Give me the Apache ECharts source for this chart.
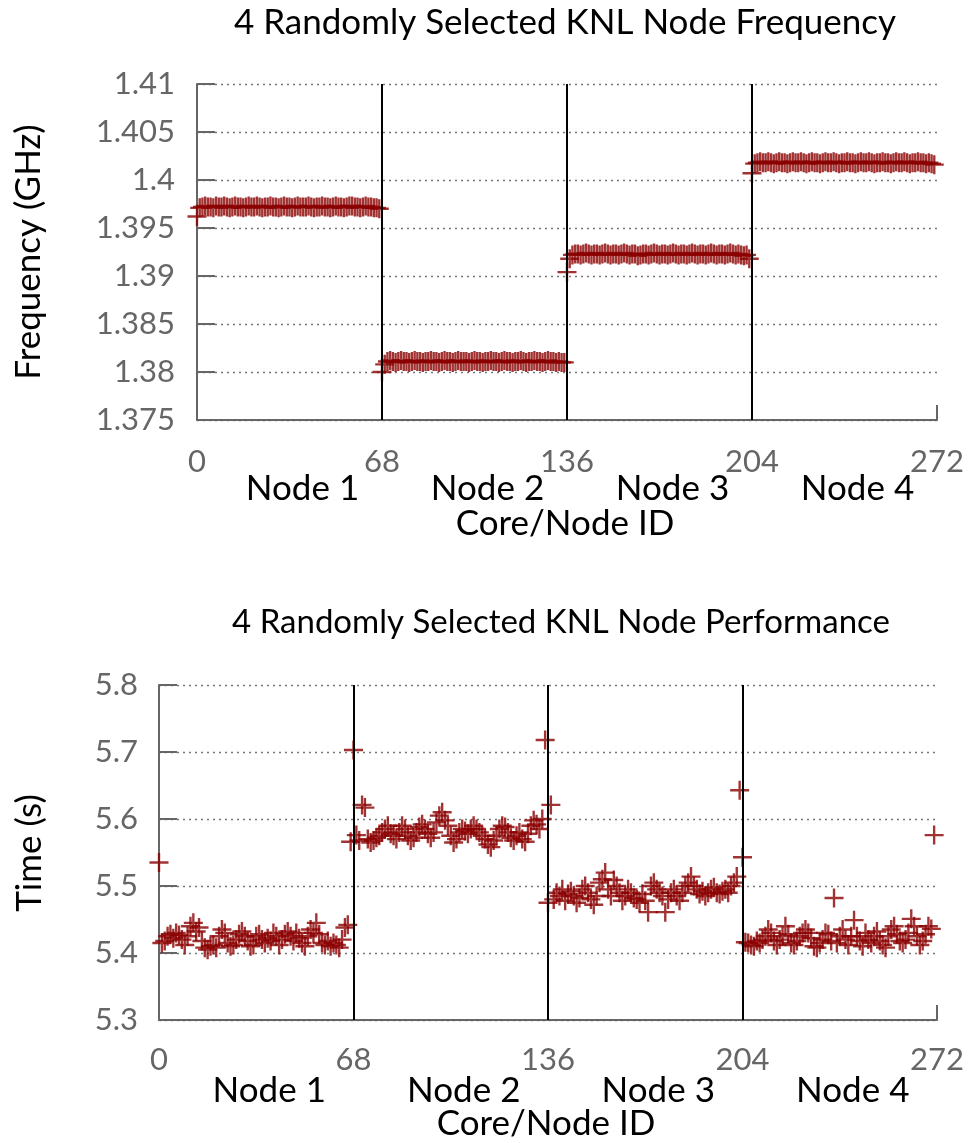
<!DOCTYPE html>
<html>
<head>
<meta charset="utf-8">
<script src="https://cdn.jsdelivr.net/npm/echarts@6/dist/echarts.min.js"></script>
<style>
  html, body { margin: 0; padding: 0; background: #fff; }
  #chart { width: 974px; height: 1143px; }
</style>
</head>
<body>
<div id="chart"></div>
<script>
const nodeNames = ["Node 1", "Node 2", "Node 3", "Node 4"];
const nodeBounds = [0, 68, 136, 204, 272];

// frequency per core (GHz), 68 cores per node
const freqNode1 = [
  1.3962, 1.3971, 1.3972, 1.3973, 1.3972, 1.3972, 1.3971, 1.3973, 1.3972, 1.3972,
  1.3973, 1.3972, 1.3971, 1.3972, 1.3973, 1.3972, 1.3972, 1.3971, 1.3972, 1.3973,
  1.3972, 1.3972, 1.3973, 1.3972, 1.3971, 1.3972, 1.3972, 1.3973, 1.3972, 1.3972,
  1.3971, 1.3972, 1.3973, 1.3972, 1.3972, 1.3971, 1.3972, 1.3973, 1.3972, 1.3972,
  1.3972, 1.3973, 1.3972, 1.3971, 1.3972, 1.3972, 1.3973, 1.3972, 1.3972, 1.3971,
  1.3972, 1.3973, 1.3972, 1.3972, 1.3971, 1.3972, 1.3973, 1.3973, 1.3972, 1.3972,
  1.3971, 1.3972, 1.3973, 1.3972, 1.3972, 1.3971, 1.3971, 1.3970
];
const freqNode2 = [
  1.3800, 1.3808, 1.3811, 1.3812, 1.3811, 1.3810, 1.3811, 1.3812, 1.3811, 1.3811,
  1.3810, 1.3811, 1.3812, 1.3811, 1.3811, 1.3810, 1.3811, 1.3811, 1.3812, 1.3811,
  1.3811, 1.3810, 1.3811, 1.3812, 1.3811, 1.3811, 1.3810, 1.3811, 1.3812, 1.3811,
  1.3811, 1.3811, 1.3810, 1.3811, 1.3812, 1.3811, 1.3811, 1.3810, 1.3811, 1.3811,
  1.3812, 1.3811, 1.3811, 1.3810, 1.3811, 1.3812, 1.3811, 1.3811, 1.3810, 1.3811,
  1.3811, 1.3812, 1.3811, 1.3810, 1.3811, 1.3811, 1.3812, 1.3811, 1.3811, 1.3810,
  1.3811, 1.3812, 1.3811, 1.3811, 1.3810, 1.3811, 1.3810, 1.3810
];
const freqNode3 = [
  1.3904, 1.3918, 1.3922, 1.3923, 1.3923, 1.3922, 1.3923, 1.3924, 1.3923, 1.3922,
  1.3923, 1.3923, 1.3922, 1.3923, 1.3924, 1.3923, 1.3922, 1.3923, 1.3923, 1.3922,
  1.3923, 1.3924, 1.3923, 1.3922, 1.3923, 1.3923, 1.3921, 1.3922, 1.3923, 1.3923,
  1.3922, 1.3923, 1.3924, 1.3923, 1.3922, 1.3923, 1.3923, 1.3922, 1.3923, 1.3924,
  1.3923, 1.3922, 1.3923, 1.3923, 1.3922, 1.3923, 1.3924, 1.3923, 1.3922, 1.3923,
  1.3923, 1.3922, 1.3923, 1.3924, 1.3923, 1.3922, 1.3923, 1.3923, 1.3922, 1.3923,
  1.3924, 1.3923, 1.3922, 1.3923, 1.3922, 1.3921, 1.3922, 1.3918
];
const freqNode4 = [
  1.4007, 1.4017, 1.4018, 1.4019, 1.4018, 1.4018, 1.4019, 1.4018, 1.4017, 1.4018,
  1.4019, 1.4018, 1.4018, 1.4017, 1.4018, 1.4019, 1.4018, 1.4018, 1.4019, 1.4018,
  1.4017, 1.4018, 1.4019, 1.4018, 1.4018, 1.4017, 1.4018, 1.4019, 1.4018, 1.4018,
  1.4019, 1.4018, 1.4017, 1.4018, 1.4018, 1.4019, 1.4018, 1.4018, 1.4017, 1.4018,
  1.4019, 1.4018, 1.4018, 1.4019, 1.4018, 1.4017, 1.4018, 1.4018, 1.4019, 1.4018,
  1.4018, 1.4017, 1.4018, 1.4019, 1.4018, 1.4018, 1.4019, 1.4018, 1.4017, 1.4018,
  1.4018, 1.4019, 1.4018, 1.4018, 1.4017, 1.4018, 1.4017, 1.4016
];

// run time per core (s)
const timeNode1 = [
  5.535, 5.415, 5.418, 5.425, 5.428, 5.422, 5.430, 5.427, 5.420, 5.412,
  5.425, 5.440, 5.445, 5.432, 5.438, 5.418, 5.408, 5.405, 5.410, 5.412,
  5.408, 5.425, 5.435, 5.430, 5.415, 5.410, 5.412, 5.420, 5.428, 5.432,
  5.425, 5.418, 5.410, 5.412, 5.425, 5.428, 5.420, 5.415, 5.422, 5.418,
  5.430, 5.425, 5.412, 5.420, 5.428, 5.432, 5.425, 5.418, 5.430, 5.422,
  5.415, 5.410, 5.425, 5.435, 5.430, 5.445, 5.428, 5.415, 5.412, 5.418,
  5.410, 5.415, 5.412, 5.408, 5.420, 5.438, 5.442, 5.566
];
const timeNode2 = [
  5.703, 5.576, 5.568, 5.621, 5.617, 5.570, 5.565, 5.568, 5.572, 5.575,
  5.580, 5.585, 5.590, 5.578, 5.575, 5.570, 5.580, 5.590, 5.585, 5.575,
  5.568, 5.572, 5.580, 5.588, 5.592, 5.585, 5.578, 5.572, 5.580, 5.595,
  5.605, 5.610, 5.598, 5.590, 5.575, 5.565, 5.570, 5.580, 5.585, 5.582,
  5.578, 5.585, 5.590, 5.585, 5.580, 5.575, 5.570, 5.562, 5.558, 5.568,
  5.575, 5.585, 5.590, 5.588, 5.580, 5.572, 5.568, 5.575, 5.580, 5.570,
  5.566, 5.578, 5.590, 5.598, 5.592, 5.585, 5.600, 5.718
];
const timeNode3 = [
  5.475, 5.621, 5.480, 5.490, 5.485, 5.495, 5.478, 5.488, 5.492, 5.485,
  5.475, 5.482, 5.495, 5.500, 5.490, 5.480, 5.472, 5.485, 5.505, 5.510,
  5.520, 5.495, 5.485, 5.509, 5.500, 5.490, 5.478, 5.485, 5.495, 5.490,
  5.482, 5.480, 5.475, 5.488, 5.478, 5.461, 5.500, 5.505, 5.495, 5.490,
  5.485, 5.461, 5.480, 5.490, 5.495, 5.485, 5.478, 5.490, 5.500, 5.505,
  5.514, 5.500, 5.495, 5.488, 5.492, 5.485, 5.490, 5.495, 5.498, 5.490,
  5.488, 5.492, 5.495, 5.490, 5.500, 5.505, 5.514, 5.643
];
const timeNode4 = [
  5.543, 5.416, 5.415, 5.412, 5.410, 5.418, 5.415, 5.420, 5.425, 5.435,
  5.430, 5.418, 5.412, 5.420, 5.425, 5.440, 5.428, 5.415, 5.412, 5.418,
  5.425, 5.430, 5.435, 5.430, 5.422, 5.410, 5.408, 5.415, 5.420, 5.430,
  5.428, 5.418, 5.482, 5.415, 5.425, 5.435, 5.420, 5.412, 5.425, 5.449,
  5.425, 5.418, 5.410, 5.430, 5.420, 5.415, 5.425, 5.432, 5.418, 5.412,
  5.408, 5.425, 5.435, 5.440, 5.428, 5.418, 5.415, 5.420, 5.430, 5.451,
  5.440, 5.425, 5.412, 5.418, 5.428, 5.440, 5.436, 5.576
];

const FONT = "Lato, 'DejaVu Sans', sans-serif";
const RED = "#8B0000";
const GREY = "#666666";
// plus sign drawn as a filled cross, bars ~2.4px at size 19
const PLUS = "path://M8.75,0h2.5v8.75h8.75v2.5h-8.75v8.75h-2.5v-8.75h-8.75v-2.5h8.75z";

const toPoints = (arr) => arr.map((v, i) => [i, v]);
const freqData = toPoints([].concat(freqNode1, freqNode2, freqNode3, freqNode4));
const timeData = toPoints([].concat(timeNode1, timeNode2, timeNode3, timeNode4));
const nodeCenters = nodeNames.map((n, i) => (nodeBounds[i] + nodeBounds[i + 1]) / 2);

//main x axis (ticks 0..272) for a grid
function coreAxis(gridIndex, margin) {
    return {
        type: "value", gridIndex: gridIndex, min: 0, max: 272, interval: 68,
        axisLine: { lineStyle: { color: GREY, width: 2 } },
        axisTick: { inside: true, length: 15, lineStyle: { color: GREY, width: 2 } },
        axisLabel: { color: GREY, fontFamily: FONT, fontSize: 31, lineHeight: 30, margin: margin },
        splitLine: { show: false }
    };
}

//second x axis that only carries the node names
function nodeAxis(gridIndex, margin) {
    return {
        type: "value", gridIndex: gridIndex, min: 0, max: 272, position: "bottom", offset: 0,
        axisLine: { show: false },
        axisTick: { show: false },
        splitLine: { show: false },
        axisLabel: {
            customValues: nodeCenters,
            formatter: (v) => nodeNames[nodeCenters.indexOf(v)] || "",
            color: "#000", fontFamily: FONT, fontSize: 35, lineHeight: 34,
            margin: margin, padding: [0, 0, 0, 26]
        }
    };
}

function valueAxis(gridIndex, min, max, interval, margin) {
    return {
        type: "value", gridIndex: gridIndex, min: min, max: max, interval: interval,
        axisLine: { show: true, lineStyle: { color: GREY, width: 2 } },
        axisTick: { inside: true, length: 18, lineStyle: { color: GREY, width: 2 } },
        axisLabel: { color: GREY, fontFamily: FONT, fontSize: 31, margin: margin },
        splitLine: { show: true, lineStyle: { color: "#777", width: 1.4, type: [2, 4] } }
    };
}

function scatter(xIdx, yIdx, data) {
    return {
        type: "scatter", xAxisIndex: xIdx, yAxisIndex: yIdx, data: data,
        symbol: PLUS, symbolSize: 19,
        itemStyle: { color: RED },
        silent: true,
        markLine: {
            silent: true, symbol: "none", label: { show: false },
            lineStyle: { color: "#000", width: 2, type: "solid" },
            data: nodeBounds.slice(1, 4).map(b => ({ xAxis: b }))
        }
    };
}

function text(str, x, y, rotation, size) {
    return {
        type: "text", x: x, y: y, rotation: rotation || 0,
        style: { text: str, fill: "#000", font: (size || 35) + "px " + FONT, align: "center", verticalAlign: "middle" }
    };
}

const chart = echarts.init(document.getElementById("chart"), null, { renderer: "canvas" });

chart.setOption({
    animation: false,
    grid: [
        { left: 197, right: 37, top: 84, height: 336 },
        { left: 159, right: 37, top: 685, height: 335 }
    ],
    xAxis: [coreAxis(0, 27), nodeAxis(0, 52), coreAxis(1, 25), nodeAxis(1, 54)],
    yAxis: [valueAxis(0, 1.375, 1.41, 0.005, 22), valueAxis(1, 5.3, 5.8, 0.1, 21)],
    series: [scatter(0, 0, freqData), scatter(2, 1, timeData)],
    graphic: [
        text("4 Randomly Selected KNL Node Frequency", 565, 23),
        text("Core/Node ID", 565, 524),
        text("Frequency (GHz)", 29, 252, Math.PI / 2),
        text("4 Randomly Selected KNL Node Performance", 561, 622, 0, 33),
        text("Core/Node ID", 546, 1124),
        text("Time (s)", 30, 853, Math.PI / 2)
    ]
});
</script>
</body>
</html>
